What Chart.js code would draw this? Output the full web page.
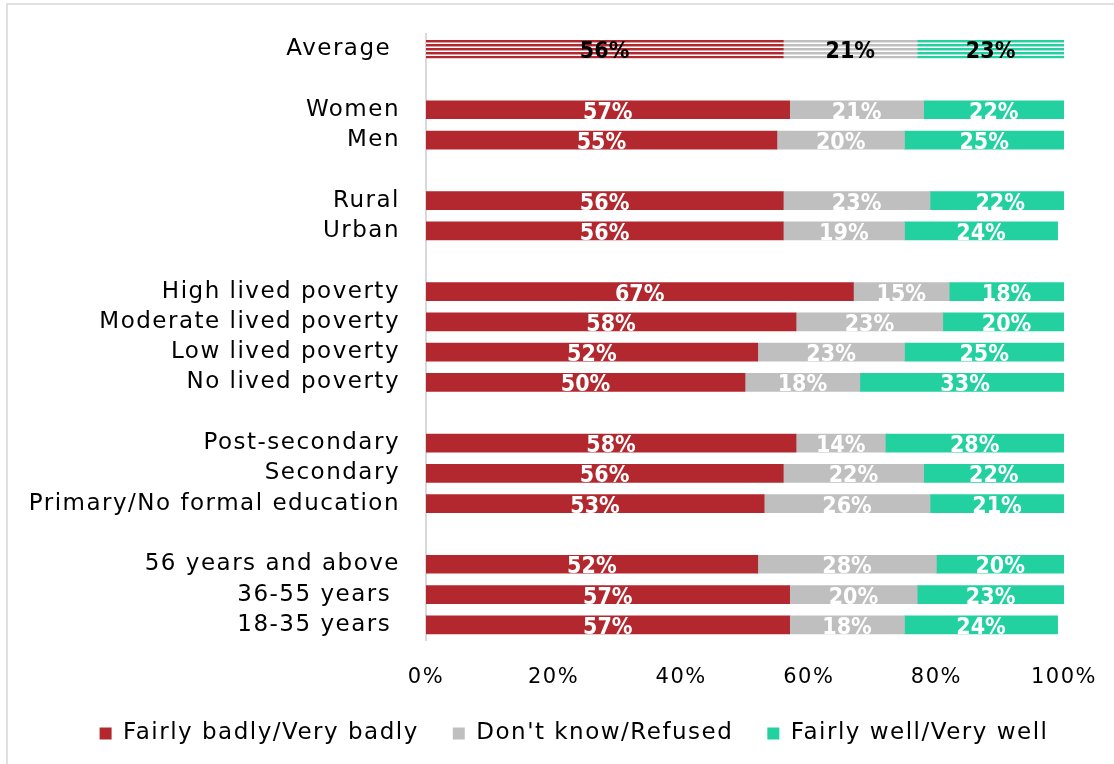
<!DOCTYPE html>
<html>
<head>
<meta charset="utf-8">
<script src="https://cdn.jsdelivr.net/npm/chart.js@4.4.1/dist/chart.umd.min.js"></script>
<style>
  html, body { margin: 0; padding: 0; background: #fff; }
  #wrap { position: relative; width: 1114px; height: 764px; }
</style>
</head>
<body>
<div id="wrap"><canvas id="chart" width="1114" height="764"></canvas></div>
<script>
const ctx = document.getElementById('chart');

// Categorías (las vacías dejan el hueco entre grupos)
const categories = ['Average ', '', 'Women', 'Men', '', 'Rural', 'Urban', '',
    'High lived poverty', 'Moderate lived poverty', 'Low lived poverty', 'No lived poverty', '',
    'Post-secondary', 'Secondary', 'Primary/No formal education', '',
    '56 years and above', '36-55 years ', '18-35 years '];

const badly    = [56, null, 57, 55, null, 56, 56, null, 67, 58, 52, 50, null, 58, 56, 53, null, 52, 57, 57];
const dontKnow = [21, null, 21, 20, null, 23, 19, null, 15, 23, 23, 18, null, 14, 22, 26, null, 28, 20, 18];
const well     = [23, null, 22, 25, null, 22, 24, null, 18, 20, 25, 33, null, 28, 22, 21, null, 20, 23, 24];

const seriesNames = ['Fairly badly/Very badly', "Don't know/Refused", 'Fairly well/Very well'];
const xTicks = [0, 20, 40, 60, 80, 100];

const colores = ['#B2282E', '#BFBFBF', '#23D1A0'];

// Rayado horizontal para la barra del promedio
function rayas(color) {
    const c = document.createElement('canvas');
    c.width = 8; c.height = 4;
    const g = c.getContext('2d');
    g.fillStyle = '#fff';
    g.fillRect(0, 0, 8, 4);
    g.fillStyle = color;
    g.fillRect(0, 0, 8, 2);
    g.globalAlpha = 0.45;
    g.fillRect(0, 2, 8, 1);
    return g.createPattern(c, 'repeat');
}

function dataset(label, data, i) {
    const pat = rayas(colores[i]);
    return {
        label: label,
        data: data,
        backgroundColor: (c) => c.dataIndex === 0 ? pat : colores[i],
        borderWidth: 0,
        barThickness: 18
    };
}

// Texto de ejes y leyenda un poco más espaciado; leyenda algo a la derecha
const espaciado = {
    id: 'espaciado',
    beforeLayout(chart) { chart.ctx.letterSpacing = '1.5px'; },
    afterLayout(chart) {
        chart.legend.left += 42;
        chart.legend.right += 42;
    },
    beforeDraw(chart) { chart.ctx.letterSpacing = '1.5px'; }
};

// Etiquetas de valor dentro de cada segmento
const etiquetas = {
    id: 'etiquetas',
    afterDatasetsDraw(chart) {
        const g = chart.ctx;
        g.save();
        g.letterSpacing = '0px';
        g.font = "bold 23px 'DejaVu Sans', sans-serif";
        if ('fontStretch' in g) g.fontStretch = 'condensed';
        g.textAlign = 'center';
        g.textBaseline = 'middle';
        chart.data.datasets.forEach((ds, di) => {
            chart.getDatasetMeta(di).data.forEach((bar, i) => {
                const v = ds.data[i];
                if (v === null) return;
                const p = bar.getProps(['x', 'base', 'y'], true);
                g.fillStyle = i === 0 ? '#000' : '#fff';
                g.fillText(v + '%', (p.x + p.base) / 2, p.y + 3);
            });
        });
        g.restore();
    }
};

// Marco gris del gráfico (arriba e izquierda)
const marco = {
    id: 'marco',
    beforeDraw(chart) {
        const g = chart.ctx;
        g.save();
        g.fillStyle = '#E0E0E0';
        g.fillRect(6, 3, chart.width - 6, 2);
        g.fillRect(6, 3, 2, chart.height - 3);
        g.restore();
    }
};

const fuente = "'DejaVu Sans', sans-serif";

new Chart(ctx, {
    type: 'bar',
    data: {
        labels: categories,
        datasets: [
            dataset(seriesNames[0], badly, 0),
            dataset(seriesNames[1], dontKnow, 1),
            dataset(seriesNames[2], well, 2)
        ]
    },
    options: {
        indexAxis: 'y',
        responsive: false,
        animation: false,
        devicePixelRatio: 1,
        layout: { padding: { top: 34, right: 50, bottom: 9, left: 0 } },
        scales: {
            x: {
                stacked: true,
                min: 0,
                max: 100,
                afterBuildTicks: (s) => { s.ticks = xTicks.map(v => ({ value: v })); },
                afterFit: (s) => { s.height = 48; },
                grid: { display: false },
                border: { display: false },
                ticks: {
                    color: '#000',
                    padding: 17,
                    font: { family: fuente, size: 21 },
                    callback: (v) => v + '%'
                }
            },
            y: {
                stacked: true,
                afterFit: (s) => {
                    s.width = 426;
                    s.paddingTop = 0;
                    s.paddingBottom = 0;
                },
                grid: { display: false, drawTicks: false },
                border: { color: '#D9D9D9', width: 2 },
                ticks: {
                    color: '#000',
                    padding: 26,
                    autoSkip: false,
                    font: { family: fuente, size: 23 }
                }
            }
        },
        plugins: {
            legend: {
                position: 'bottom',
                labels: {
                    color: '#000',
                    boxWidth: 12,
                    boxHeight: 12,
                    padding: 34,
                    font: { family: fuente, size: 23 },
                    generateLabels: (chart) => chart.data.datasets.map((ds, i) => ({
                        text: ds.label,
                        fillStyle: colores[i],
                        strokeStyle: colores[i],
                        lineWidth: 0,
                        fontColor: '#000',
                        datasetIndex: i
                    }))
                }
            },
            tooltip: { enabled: false }
        }
    },
    plugins: [espaciado, marco, etiquetas]
});
</script>
</body>
</html>
